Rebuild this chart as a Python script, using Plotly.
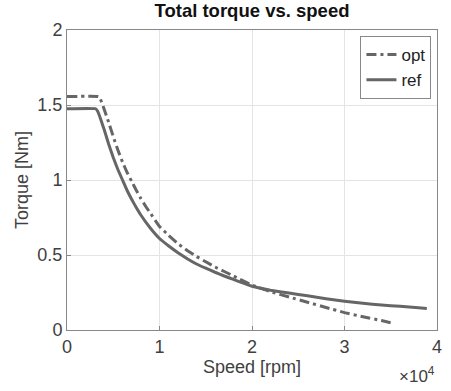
import plotly.graph_objects as go

speed_opt = [0, 3400, 3600, 3800, 4000, 4500, 5000, 5500, 6000, 6500, 7000, 7500, 8000, 8500,
             9000, 10000, 11000, 12000, 13000, 14000, 15000, 16000, 17000, 18000, 20000, 22000,
             24000, 26000, 28000, 30000, 32000, 34000, 35300]
torque_opt = [1.556, 1.556, 1.54, 1.51, 1.475, 1.385, 1.29, 1.20, 1.12, 1.05, 0.99, 0.93, 0.875, 0.825,
              0.78, 0.69, 0.63, 0.575, 0.53, 0.49, 0.455, 0.42, 0.39, 0.36, 0.30, 0.255,
              0.22, 0.185, 0.15, 0.116, 0.088, 0.063, 0.044]

speed_ref = [0, 3100, 3300, 3500, 3750, 4000, 4500, 5000, 5500, 6000, 6500, 7000, 7500, 8000, 9000,
             10000, 11000, 12000, 13000, 14000, 15000, 16000, 17000, 18000, 20000, 22000, 24000,
             26000, 28000, 30000, 32000, 34000, 36000, 38000, 38900]
torque_ref = [1.475, 1.475, 1.46, 1.43, 1.385, 1.34, 1.24, 1.15, 1.07, 1.0, 0.93, 0.87, 0.815, 0.765, 0.68,
              0.61, 0.56, 0.515, 0.475, 0.44, 0.412, 0.385, 0.36, 0.337, 0.292, 0.265, 0.246,
              0.228, 0.209, 0.192, 0.178, 0.167, 0.158, 0.149, 0.144]

x_tickvals = [0, 10000, 20000, 30000, 40000]
x_ticktext = ["0", "1", "2", "3", "4"]
y_tickvals = [0, 0.5, 1, 1.5, 2]
y_ticktext = ["0", "0.5", "1", "1.5", "2"]

line_color = "#666666"
font = "Liberation Sans, Arial, sans-serif"

fig = go.Figure()
fig.add_trace(go.Scatter(x=speed_opt, y=torque_opt, mode="lines", name="opt",
                         line=dict(color=line_color, width=3, dash="10px,4px,3px,4px",
                                   shape="spline", smoothing=0.3)))
fig.add_trace(go.Scatter(x=speed_ref, y=torque_ref, mode="lines", name="ref",
                         line=dict(color=line_color, width=3,
                                   shape="spline", smoothing=0.3)))

fig.update_layout(
    width=451, height=391,
    margin=dict(l=67, r=9, t=30, b=61),
    paper_bgcolor="white", plot_bgcolor="white",
    font=dict(family=font, size=18, color="#404040"),
    title=dict(text="<b>Total torque vs. speed</b>", x=0.5, xref="paper", xanchor="center",
               y=0.99, yanchor="top", font=dict(size=18.5, color="#111111")),
    showlegend=True,
    legend=dict(x=0.985, y=0.98, xanchor="right", yanchor="top",
                bordercolor="#888888", borderwidth=1, bgcolor="white",
                font=dict(size=17, color="#222222"),
                tracegroupgap=0, itemwidth=30),
)
fig.update_xaxes(range=[0, 40000], tickvals=x_tickvals, ticktext=x_ticktext,
                 showgrid=True, gridcolor="#e4e4e4", zeroline=False,
                 showline=True, linecolor="#888888", linewidth=1, mirror=True,
                 ticks="inside", ticklen=4, tickcolor="#888888",
                 title=dict(text="Speed [rpm]", standoff=4, font=dict(size=18)))
fig.update_yaxes(range=[0, 2], tickvals=y_tickvals, ticktext=y_ticktext,
                 showgrid=True, gridcolor="#e4e4e4", zeroline=False,
                 showline=True, linecolor="#888888", linewidth=1, mirror=True,
                 ticks="inside", ticklen=4, tickcolor="#888888",
                 title=dict(text="Torque [Nm]", standoff=4, font=dict(size=18)))
fig.add_annotation(text="×10<sup>4</sup>", xref="paper", yref="paper",
                   x=1.0, y=-0.105, xanchor="right", yanchor="top", showarrow=False,
                   font=dict(size=17, color="#404040"))
fig.write_html("out.html")
